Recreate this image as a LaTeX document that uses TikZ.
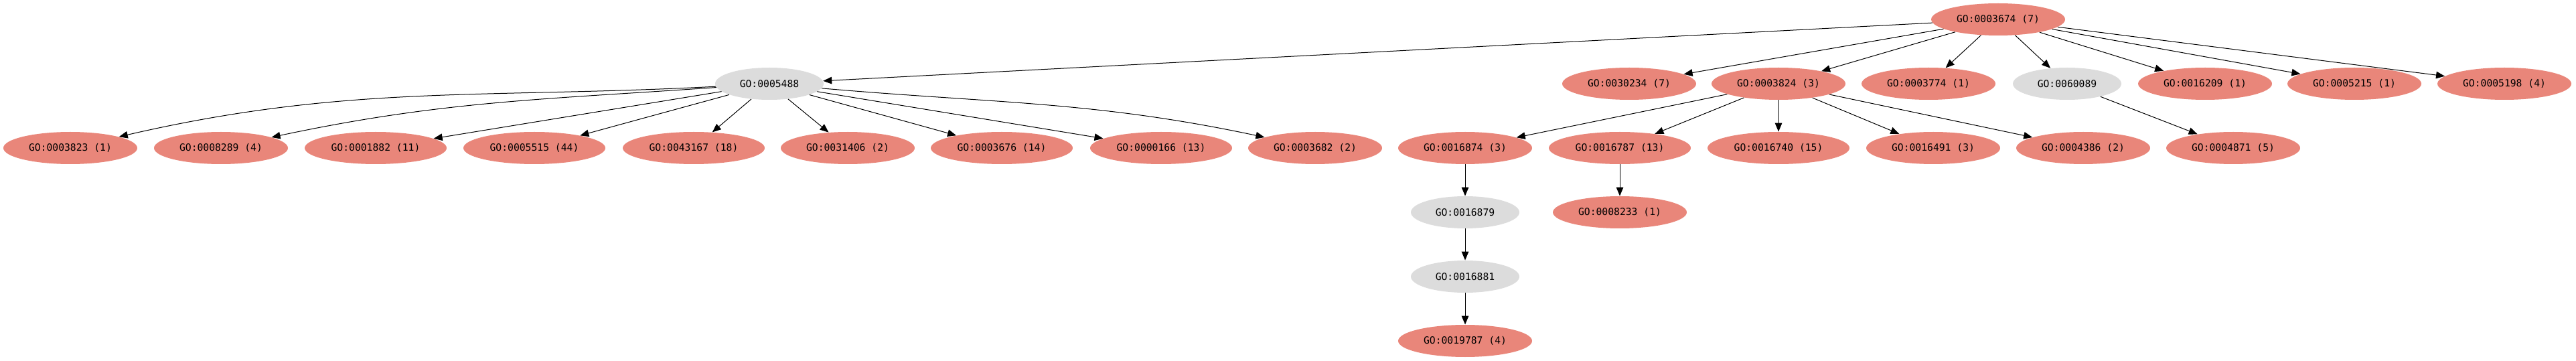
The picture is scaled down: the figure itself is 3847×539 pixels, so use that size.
\documentclass[tikz,border=0pt]{standalone}
\usepackage{fontspec}
\newfontfamily\gofont{DejaVu Sans Mono}
\usetikzlibrary{shapes.geometric,arrows.meta}
\definecolor{salm}{RGB}{233,134,122}
\definecolor{gryf}{RGB}{220,220,220}
\tikzset{
  gonode/.style={ellipse, inner sep=0pt, minimum height=24pt, draw=none,
    font=\gofont\fontsize{7.35pt}{8pt}\selectfont, text=black},
  term/.style={gonode, fill=salm, minimum width=100pt},
  termw/.style={gonode, fill=salm, minimum width=106pt},
  grp/.style={gonode, fill=gryf, minimum width=81pt},
  edge/.style={draw=black, line width=0.5pt, -{Triangle[length=6.5pt,width=5.3pt]}}
}
\begin{document}
\begin{tikzpicture}[x=0.5pt,y=-0.5pt]
\useasboundingbox (0,0) rectangle (3847,539);
% row 0
\node[term] (t0) at (2984,29) {GO:0003674 (7)};
% row 1
\node[grp]  (n5488)  at (1149,125) {GO:0005488};
\node[term] (n30234) at (2433,125) {GO:0030234 (7)};
\node[term] (n3824)  at (2656,125) {GO:0003824 (3)};
\node[term] (n3774)  at (2880,125) {GO:0003774 (1)};
\node[grp]  (n60089) at (3087,125) {GO:0060089};
\node[term] (n16209) at (3293,125) {GO:0016209 (1)};
\node[term] (n5215)  at (3516,125) {GO:0005215 (1)};
\node[term] (n5198)  at (3740,125) {GO:0005198 (4)};
% row 2
\node[term]  (c3823)  at (105,221)  {GO:0003823 (1)};
\node[term]  (c8289)  at (330,221)  {GO:0008289 (4)};
\node[termw] (c1882)  at (561,221)  {GO:0001882 (11)};
\node[termw] (c5515)  at (798,221)  {GO:0005515 (44)};
\node[termw] (c43167) at (1036,221) {GO:0043167 (18)};
\node[term]  (c31406) at (1266,221) {GO:0031406 (2)};
\node[termw] (c3676)  at (1496,221) {GO:0003676 (14)};
\node[termw] (c166)   at (1734,221) {GO:0000166 (13)};
\node[term]  (c3682)  at (1964,221) {GO:0003682 (2)};
\node[term]  (c16874) at (2188,221) {GO:0016874 (3)};
\node[termw] (c16787) at (2419,221) {GO:0016787 (13)};
\node[termw] (c16740) at (2656,221) {GO:0016740 (15)};
\node[term]  (c16491) at (2887,221) {GO:0016491 (3)};
\node[term]  (c4386)  at (3111,221) {GO:0004386 (2)};
\node[term]  (c4871)  at (3335,221) {GO:0004871 (5)};
% rows 3-5
\node[grp]  (c16879) at (2188,317) {GO:0016879};
\node[term] (c8233)  at (2419,317) {GO:0008233 (1)};
\node[grp]  (c16881) at (2188,413) {GO:0016881};
\node[term] (c19787) at (2188,509) {GO:0019787 (4)};
% edges from top
\draw[edge] (t0) -- (n5488);
\draw[edge] (t0) -- (n30234);
\draw[edge] (t0) -- (n3824);
\draw[edge] (t0) -- (n3774);
\draw[edge] (t0) -- (n60089);
\draw[edge] (t0) -- (n16209);
\draw[edge] (t0) -- (n5215);
\draw[edge] (t0) -- (n5198);
% edges from GO:0005488
\draw[edge] (n5488) to[out=183,in=13] (c3823);
\draw[edge] (n5488) to[out=184,in=12] (c8289);
\draw[edge] (n5488) -- (c1882);
\draw[edge] (n5488) -- (c5515);
\draw[edge] (n5488) -- (c43167);
\draw[edge] (n5488) -- (c31406);
\draw[edge] (n5488) -- (c3676);
\draw[edge] (n5488) -- (c166);
\draw[edge] (n5488) to[out=-5,in=168] (c3682);
% edges from GO:0003824
\draw[edge] (n3824) -- (c16874);
\draw[edge] (n3824) -- (c16787);
\draw[edge] (n3824) -- (c16740);
\draw[edge] (n3824) -- (c16491);
\draw[edge] (n3824) -- (c4386);
\draw[edge] (n60089) -- (c4871);
% vertical chains
\draw[edge] (c16874) -- (c16879);
\draw[edge] (c16879) -- (c16881);
\draw[edge] (c16881) -- (c19787);
\draw[edge] (c16787) -- (c8233);
\end{tikzpicture}
\end{document}
